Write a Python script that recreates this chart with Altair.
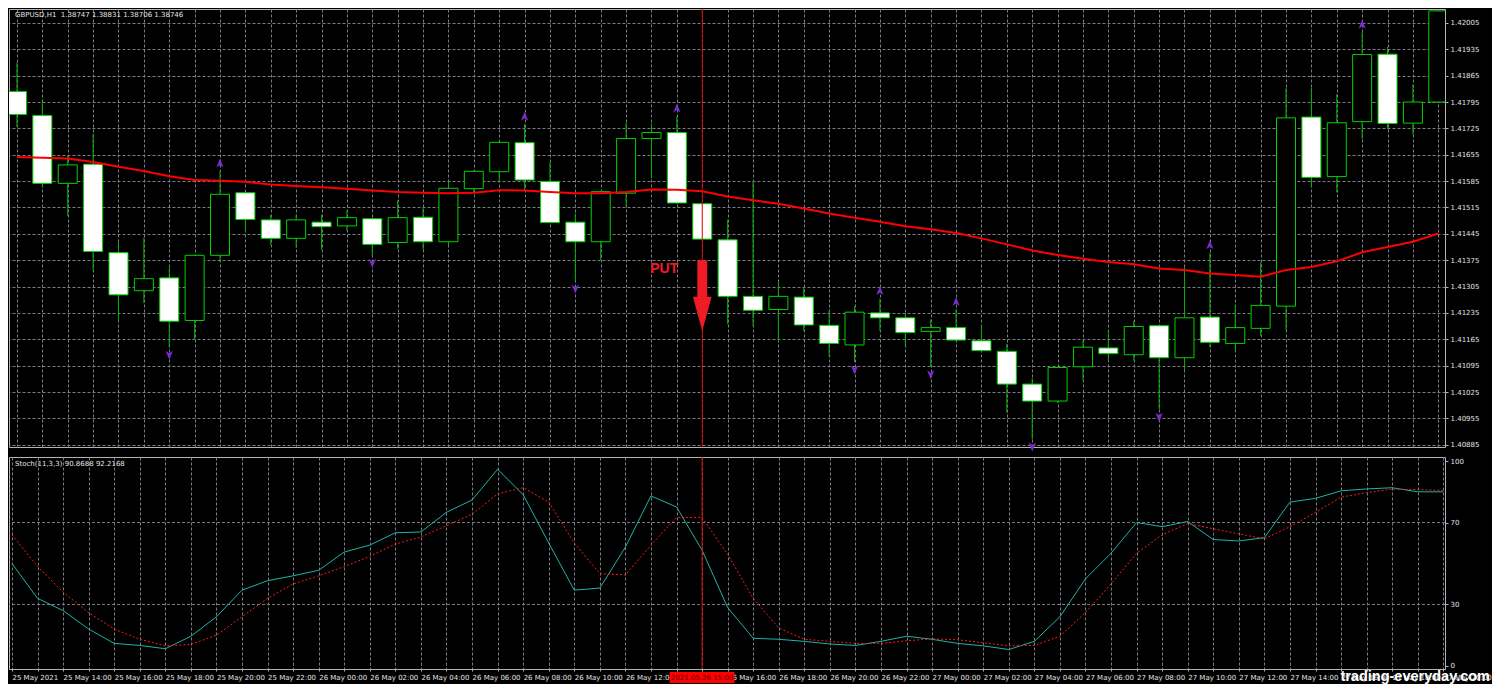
import altair as alt
import numpy as np
import pandas as pd

# ---------------- data ----------------
bar_times = pd.date_range("2021-05-25 12:00", periods=57, freq="h")

opens = [1.41823, 1.41759, 1.41579, 1.41630, 1.41395, 1.41294, 1.41328, 1.41215, 1.41388, 1.41554,
         1.41482, 1.41433, 1.41476, 1.41466, 1.41485, 1.41422, 1.41489, 1.41424, 1.41565, 1.41610,
         1.41687, 1.41584, 1.41476, 1.41424, 1.41553, 1.41698, 1.41714, 1.41525, 1.41429, 1.41279,
         1.41244, 1.41277, 1.41202, 1.41150, 1.41235, 1.41222, 1.41186, 1.41196, 1.41161, 1.41133,
         1.41046, 1.41001, 1.41092, 1.41142, 1.41124, 1.41201, 1.41116, 1.41224, 1.41154, 1.41194,
         1.41253, 1.41755, 1.41597, 1.41743, 1.41922, 1.41739, 1.41795]
highs = [1.41900, 1.41801, 1.41653, 1.41711, 1.41422, 1.41435, 1.41355, 1.41390, 1.41612, 1.41556,
         1.41496, 1.41496, 1.41495, 1.41507, 1.41487, 1.41534, 1.41516, 1.41583, 1.41613, 1.41690,
         1.41736, 1.41635, 1.41499, 1.41559, 1.41740, 1.41738, 1.41758, 1.41527, 1.41483, 1.41584,
         1.41316, 1.41302, 1.41242, 1.41253, 1.41273, 1.41235, 1.41218, 1.41244, 1.41201, 1.41153,
         1.41061, 1.41092, 1.41161, 1.41189, 1.41214, 1.41203, 1.41357, 1.41395, 1.41255, 1.41369,
         1.41832, 1.41832, 1.41816, 1.41980, 1.41941, 1.41841, 1.42037]
lows = [1.41729, 1.41569, 1.41492, 1.41347, 1.41213, 1.41261, 1.41144, 1.41166, 1.41370, 1.41453,
        1.41415, 1.41409, 1.41403, 1.41452, 1.41388, 1.41405, 1.41402, 1.41415, 1.41553, 1.41581,
        1.41562, 1.41473, 1.41320, 1.41376, 1.41518, 1.41592, 1.41525, 1.41429, 1.41205, 1.41201,
        1.41159, 1.41187, 1.41120, 1.41105, 1.41187, 1.41148, 1.41092, 1.41161, 1.41133, 1.40970,
        1.40900, 1.40996, 1.41055, 1.41109, 1.41109, 1.40979, 1.41083, 1.41144, 1.41135, 1.41174,
        1.41188, 1.41569, 1.41555, 1.41697, 1.41723, 1.41708, 1.41795]
closes = [1.41762, 1.41579, 1.41628, 1.41398, 1.41283, 1.41326, 1.41213, 1.41388, 1.41550, 1.41483,
          1.41433, 1.41482, 1.41464, 1.41488, 1.41417, 1.41488, 1.41424, 1.41566, 1.41611, 1.41688,
          1.41588, 1.41475, 1.41424, 1.41557, 1.41698, 1.41714, 1.41527, 1.41431, 1.41279, 1.41242,
          1.41279, 1.41203, 1.41154, 1.41237, 1.41222, 1.41183, 1.41196, 1.41163, 1.41135, 1.41046,
          1.41001, 1.41090, 1.41144, 1.41127, 1.41199, 1.41116, 1.41222, 1.41157, 1.41196, 1.41255,
          1.41753, 1.41595, 1.41740, 1.41921, 1.41738, 1.41795, 1.42037]
ma_values = [1.41649, 1.41647, 1.41645, 1.41636, 1.41623, 1.41612, 1.41598, 1.41588, 1.41586, 1.41583,
             1.41576, 1.41572, 1.41569, 1.41565, 1.41560, 1.41556, 1.41554, 1.41553, 1.41554, 1.41561,
             1.41560, 1.41556, 1.41553, 1.41553, 1.41556, 1.41563, 1.41562, 1.41558, 1.41544, 1.41534,
             1.41525, 1.41512, 1.41499, 1.41488, 1.41477, 1.41465, 1.41457, 1.41447, 1.41433, 1.41417,
             1.41401, 1.41389, 1.41379, 1.41370, 1.41364, 1.41353, 1.41349, 1.41340, 1.41336, 1.41331,
             1.41349, 1.41357, 1.41372, 1.41396, 1.41410, 1.41424, 1.41446]
stoch_main = [50, 33, 27, 18, 11, 10, 8.4, 14.5, 24, 37,
              41.6, 44, 46.7, 55.6, 59, 65, 65.4, 75, 81, 96,
              83.6, 60, 37, 38, 58, 83, 77.6, 56.5, 28.5, 13.5,
              13, 12, 10.7, 10, 12, 14.5, 13, 11, 9.8, 8,
              12, 24, 42.5, 55, 70, 68, 70.5, 61.7, 61, 62.6,
              80, 81.8, 85.5, 86.4, 87, 85, 85]
stoch_signal = [64, 48.6, 36, 26, 18, 13, 9.8, 10.5, 15, 24,
                33, 40, 44, 48.5, 53.5, 59.5, 63, 68.5, 74, 84,
                87, 80, 60, 45, 44.5, 59, 72.5, 72.5, 54.5, 33,
                18.5, 13, 12, 11, 11, 12.3, 13.2, 12.8, 11.3, 9.8,
                10, 14.5, 26, 40, 55, 64, 69.5, 67, 64.5, 62,
                68, 75, 82.4, 84.6, 86.3, 86.1, 85.7]
fractal_up_bars = [8, 20, 26, 34, 37, 47, 53]
fractal_down_bars = [6, 14, 22, 33, 36, 40, 45]

price_ticks = [1.40885, 1.40955, 1.41025, 1.41095, 1.41165, 1.41235, 1.41305, 1.41375, 1.41445,
               1.41515, 1.41585, 1.41655, 1.41725, 1.41795, 1.41865, 1.41935, 1.42005]
stoch_ticks = [0, 30, 70, 100]
stoch_levels = [30, 70]

signal_bar = 27
signal_label = "PUT"
signal_arrow_price = 1.41281
signal_text_price = 1.41351
signal_time_label = "2021.05.26 15:00"
first_time_label = "25 May 2021"
header = "GBPUSD,H1\u00a0\u00a01.38747 1.38831 1.38706 1.38746"
stoch_header = "Stoch(11,3,3) 90.8688 92.2168"
watermark = "trading-everyday.com"

# ---------------- styling ----------------
W = 1436
H_MAIN = 438
H_STOCH = 212
GRID = "#7c7c84"
TXT = "#e4e4e4"
FRAME = "#b4b4b4"
FONT = "DejaVu Sans"
WICK = "#00b400"
OUTLINE = "#00d200"
PURPLE = "#7c2ccc"
RED = "#ee1c25"
VLINE = "#d40000"
DASH = [3, 2]

UP = "M0,-1 L0.8,1 L0,0.45 L-0.8,1 Z"
DOWN = "M0,1 L0.8,-1 L0,-0.45 L-0.8,-1 Z"
ARROW = "M-0.139,-1 L0.139,-1 L0.139,0.03 L0.264,0.03 L0,1 L-0.264,0.03 L-0.139,0.03 Z"
BOX = "M-1,-0.17 L1,-0.17 L1,0.17 L-1,0.17 Z"

t_iso = [ts.strftime("%Y-%m-%dT%H:%M:%S") for ts in bar_times]
df = pd.DataFrame(dict(t=t_iso, open=opens, high=highs, low=lows, close=closes,
                       ma=ma_values, k=stoch_main, d=stoch_signal))
df["dir"] = np.where(df["close"] >= df["open"], "bull", "bear")

fr_up = pd.DataFrame({"t": [t_iso[i] for i in fractal_up_bars],
                      "price": [highs[i] for i in fractal_up_bars]})
fr_dn = pd.DataFrame({"t": [t_iso[i] for i in fractal_down_bars],
                      "price": [lows[i] for i in fractal_down_bars]})
sig = pd.DataFrame({"t": [t_iso[signal_bar]], "arrow": [signal_arrow_price],
                    "textp": [signal_text_price], "label": [signal_label],
                    "time_label": [signal_time_label]})


def dt(ts):
    return alt.DateTime(year=ts.year, month=ts.month, date=ts.day,
                        hours=ts.hour, minutes=ts.minute)


x_domain = [dt(bar_times[0] - pd.Timedelta(minutes=7)), dt(bar_times[-1] + pd.Timedelta(minutes=4))]
hour_values = [dt(ts) for ts in bar_times]
xs = alt.Scale(domain=x_domain)

x_main = alt.X("t:T", scale=xs,
               axis=alt.Axis(values=hour_values, labels=False, ticks=False, domain=False, title=None,
                             grid=True, gridColor=GRID, gridDash=DASH, gridWidth=1))
ys_main = alt.Scale(domain=[1.40879, 1.42042], zero=False, nice=False)
y_axis_main = alt.Axis(orient="right", values=price_ticks, format=".5f", title=None, grid=True,
                       gridColor=GRID, gridDash=DASH, gridWidth=1, tickSize=3, labelPadding=2,
                       domain=False)


def ym(field):
    return alt.Y(f"{field}:Q", scale=ys_main, axis=y_axis_main)


wicks = alt.Chart(df).mark_rule(color=WICK, strokeWidth=1, clip=True).encode(
    x=x_main, y=ym("low"), y2="high:Q")
bodies = alt.Chart(df).mark_bar(size=19, stroke=OUTLINE, strokeWidth=1, clip=True).encode(
    x=x_main, y=ym("open"), y2="close:Q",
    fill=alt.Fill("dir:N", scale=alt.Scale(domain=["bear", "bull"], range=["#ffffff", "#000000"]),
                  legend=None))
ma_line = alt.Chart(df).mark_line(color="#ff0000", strokeWidth=2, clip=True).encode(
    x=x_main, y=ym("ma"))
sig_rule = alt.Chart(sig).mark_rule(color=VLINE, strokeWidth=1).encode(x=x_main)
up_pts = alt.Chart(fr_up).mark_point(shape=UP, size=81, filled=True, color=PURPLE, opacity=1,
                                     yOffset=-8).encode(x=x_main, y=ym("price"))
dn_pts = alt.Chart(fr_dn).mark_point(shape=DOWN, size=81, filled=True, color=PURPLE, opacity=1,
                                     yOffset=8).encode(x=x_main, y=ym("price"))
put_arrow = alt.Chart(sig).mark_point(shape=ARROW, size=5027, filled=True, color=RED, opacity=1,
                                      strokeWidth=0).encode(x=x_main, y=ym("arrow"))
put_text = alt.Chart(sig).mark_text(color=RED, font="Liberation Sans", fontSize=14, fontWeight="bold",
                                    dx=-38, align="center", baseline="middle").encode(
    x=x_main, y=ym("textp"), text="label:N")
header_text = alt.Chart(pd.DataFrame({"s": [header]})).mark_text(
    align="left", baseline="middle", color=TXT, font=FONT, fontSize=7).encode(
    x=alt.value(6), y=alt.value(6), text="s:N")

main = alt.layer(wicks, bodies, ma_line, sig_rule, up_pts, dn_pts, put_arrow, put_text,
                 header_text).properties(width=W, height=H_MAIN)

label_expr = ("hours(datum.value) % 2 == 0 ? ((date(datum.value) == 25 && hours(datum.value) == 12) ? '"
              + first_time_label + "' : timeFormat(datum.value, '%d %b %H:%M')) : ''")
x_st = alt.X("t:T", scale=xs,
             axis=alt.Axis(values=hour_values, labelExpr=label_expr, labelAlign="left", labelFlush=False,
                           labelOverlap=False, tickSize=2, labelPadding=2, domain=True, title=None,
                           grid=True, gridColor=GRID, gridDash=DASH, gridWidth=1))
ys_st = alt.Scale(domain=[-1.5, 102], zero=False, nice=False)
y_axis_st = alt.Axis(orient="right", values=stoch_ticks, title=None, grid=False, tickSize=3,
                     labelPadding=2, domain=False)


def yst(field):
    return alt.Y(f"{field}:Q", scale=ys_st, axis=y_axis_st)


levels = alt.Chart(pd.DataFrame({"lvl": stoch_levels})).mark_rule(
    color=GRID, strokeDash=DASH, strokeWidth=1).encode(y=yst("lvl"))
k_line = alt.Chart(df).mark_line(color="#20b2aa", strokeWidth=1, clip=True).encode(
    x=x_st, y=yst("k"))
d_line = alt.Chart(df).mark_line(color="#ff1a1a", strokeWidth=1, strokeDash=[2, 2], clip=True).encode(
    x=x_st, y=yst("d"))
sig_rule2 = alt.Chart(sig).mark_rule(color=VLINE, strokeWidth=1).encode(x=x_st)
stoch_text = alt.Chart(pd.DataFrame({"s": [stoch_header]})).mark_text(
    align="left", baseline="middle", color=TXT, font=FONT, fontSize=7).encode(
    x=alt.value(6), y=alt.value(7), text="s:N")
time_box = alt.Chart(sig).mark_point(shape=BOX, size=65 * 65, filled=True, color="#ff0000",
                                     opacity=1, strokeWidth=0).encode(
    x=x_st, y=alt.value(H_STOCH + 8.5))
time_text = alt.Chart(sig).mark_text(color="#5a0000", font=FONT, fontSize=7, align="center",
                                     baseline="middle").encode(
    x=x_st, y=alt.value(H_STOCH + 8.5), text="time_label:N")
wm = alt.Chart(pd.DataFrame({"s": [watermark]})).mark_text(
    align="right", baseline="alphabetic", color="#ffffff", font="Liberation Sans",
    fontSize=14.5, fontWeight="bold").encode(
    x=alt.value(W + 45), y=alt.value(H_STOCH + 12), text="s:N")

stoch = alt.layer(levels, k_line, d_line, sig_rule2, stoch_text, time_box, time_text, wm).properties(
    width=W, height=H_STOCH)

chart = alt.vconcat(main, stoch, spacing=3).properties(
    background="#000000", padding=0
).configure_axis(
    labelColor=TXT, labelFont=FONT, labelFontSize=7, tickColor=FRAME, domainColor=FRAME
).configure_view(stroke=FRAME, strokeWidth=1)

chart.save("out.html", embed_options={"renderer": "svg", "actions": False})
